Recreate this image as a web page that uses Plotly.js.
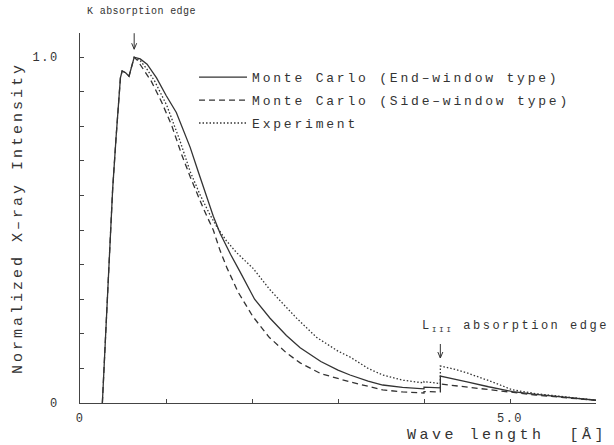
<!DOCTYPE html>
<html><head><meta charset="utf-8">
<script src="https://cdn.plot.ly/plotly-3.0.1.min.js"></script>
<style>
html,body{margin:0;padding:0;background:#fff;}
#chart{width:614px;height:445px;}
.legendtext{letter-spacing:2.8px;}
.ytitle{letter-spacing:3px;}
#chart .xtick text,#chart .ytick text{letter-spacing:1.5px;}
</style>
</head><body><div id="chart"></div>
<script>
// Wavelength [Å] and normalized intensity
const endX = [0.26,0.30,0.34,0.38,0.42,0.45,0.47,0.49,0.53,0.57,0.63,0.70,0.78,0.89,1.00,1.12,1.20,1.28,1.38,1.47,1.55,1.63,1.75,1.86,2.03,2.21,2.40,2.56,2.80,3.00,3.14,3.35,3.52,3.75,4.00,4.00,4.19,4.19,4.35,4.50,4.75,5.03,5.30,5.70,6.00];
const endY = [0.00,0.21,0.43,0.62,0.77,0.88,0.94,0.96,0.955,0.945,1.00,0.995,0.98,0.94,0.89,0.84,0.79,0.74,0.665,0.60,0.54,0.49,0.43,0.38,0.30,0.245,0.195,0.16,0.12,0.095,0.081,0.063,0.052,0.045,0.041,0.046,0.044,0.078,0.070,0.061,0.047,0.033,0.025,0.015,0.008];

const sideX = [0.26,0.30,0.34,0.38,0.42,0.45,0.47,0.49,0.53,0.57,0.63,0.67,0.75,0.83,0.95,1.07,1.18,1.28,1.43,1.55,1.63,1.71,1.84,2.01,2.20,2.40,2.56,2.80,3.14,3.52,3.75,4.00,4.00,4.19,4.19,4.50,4.75,5.03,5.30,5.70,6.00];
const sideY = [0.00,0.21,0.43,0.62,0.77,0.88,0.94,0.96,0.955,0.945,1.00,0.99,0.96,0.93,0.87,0.80,0.72,0.655,0.565,0.50,0.44,0.39,0.32,0.25,0.19,0.145,0.116,0.085,0.061,0.038,0.032,0.029,0.033,0.032,0.055,0.046,0.038,0.030,0.023,0.014,0.008];

const expX = [0.63,0.70,0.78,0.87,1.01,1.16,1.28,1.40,1.51,1.59,1.70,1.82,2.01,2.20,2.33,2.52,2.75,3.00,3.14,3.35,3.52,3.75,4.00,4.00,4.19,4.19,4.35,4.50,4.75,5.03,5.30,5.70,6.00];
const expY = [1.00,0.99,0.965,0.93,0.86,0.76,0.67,0.60,0.545,0.51,0.47,0.435,0.39,0.33,0.295,0.245,0.19,0.15,0.133,0.10,0.081,0.066,0.058,0.062,0.056,0.107,0.098,0.087,0.065,0.038,0.027,0.015,0.008];

const seriesNames = ["Monte Carlo (End\u2013window type)","Monte Carlo (Side\u2013window type)","Experiment"];
const xTickVals = [0,5];
const xTickText = ["0","5.0"];
const xMinorVals = [1,2,3,4,6];
const yTickVals = [0,1.0];
const yTickText = ["0","1.0"];
const yMinorVals = [0.1,0.2,0.3,0.4,0.5,0.6,0.7,0.8,0.9];
const kEdge = 0.63, kPeak = 1.0;
const lEdge = 4.19, lPeak = 0.107;

const ink = '#333333';
const font = 'Liberation Mono, Courier New, monospace';
const sp = (txt, px) => '<span style="letter-spacing:' + px + 'px">' + txt + '</span>';

const traces = [
  {x:endX, y:endY, name:seriesNames[0], mode:'lines', legendgroup:'a', line:{color:ink, width:1.3}},
  {x:sideX, y:sideY, name:seriesNames[1], mode:'lines', legendgroup:'b', line:{color:ink, width:1.3, dash:'6px,4px'}},
  {x:expX, y:expY, name:seriesNames[2], mode:'lines', legendgroup:'c', line:{color:ink, width:1.3, dash:'1.5px,2px'}}
];

const axisCommon = {showgrid:false, zeroline:false, showline:true, linecolor:'#444', linewidth:1,
  tickmode:'array', ticks:'inside', ticklen:4, tickcolor:'#444', tickfont:{family:font, size:12, color:ink}};

// small downward pointer arrows above each absorption edge (pixel-sized, anchored at the edge point)
const pointer = (xa, ya, top) => ({type:'path', xref:'x', yref:'y', xsizemode:'pixel', ysizemode:'pixel',
  xanchor:xa, yanchor:ya, path:'M0,' + top + ' L0,8 M-2.5,14 L0,8 L2.5,14', line:{color:ink, width:1}});

const layout = {
  width:614, height:445,
  margin:{l:80, r:18, t:33, b:42},
  paper_bgcolor:'#fff', plot_bgcolor:'#fff',
  font:{family:font, color:ink, size:12},
  showlegend:true,
  legend:{x:0.221, y:0.921, xanchor:'left', yanchor:'top', bgcolor:'rgba(0,0,0,0)',
          font:{family:font, size:13, color:ink}, itemwidth:48, tracegroupgap:3},
  xaxis:Object.assign({}, axisCommon, {range:[0,6], tickvals:xTickVals, ticktext:xTickText, ticklabelstandoff:4,
         minor:{tickmode:'array', tickvals:xMinorVals, ticks:'inside', ticklen:4, tickcolor:'#444', showgrid:false}}),
  yaxis:Object.assign({}, axisCommon, {range:[0,1.07], tickvals:yTickVals, ticktext:yTickText, ticklabelstandoff:18,
         minor:{tickmode:'array', tickvals:yMinorVals, ticks:'inside', ticklen:4, tickcolor:'#444', showgrid:false},
         title:{text:'Normalized X\u2013ray Intensity', font:{family:font, size:15, color:ink}, standoff:10}}),
  shapes:[pointer(kEdge, kPeak, 24), pointer(lEdge, lPeak, 22)],
  annotations:[
    {text:sp('Wave length  [\u00c5]', 3.5), xref:'paper', yref:'paper', x:1.025, y:-0.087, xanchor:'right', yanchor:'middle', showarrow:false, font:{family:font, size:15, color:ink}},
    {text:sp('K absorption edge', 0.4), xref:'paper', yref:'paper', x:0.12, y:1.057, xanchor:'center', yanchor:'middle', showarrow:false, font:{family:font, size:10, color:ink}},
    {text:'<span style="letter-spacing:2.5px">L<span style="font-size:8px;baseline-shift:-3px">III</span> absorption edge</span>', xref:'paper', yref:'paper', x:0.659, y:0.208, xanchor:'left', yanchor:'middle', showarrow:false, font:{family:font, size:12, color:ink}}
  ]
};

Plotly.newPlot('chart', traces, layout, {staticPlot:true, displayModeBar:false});
</script></body></html>
